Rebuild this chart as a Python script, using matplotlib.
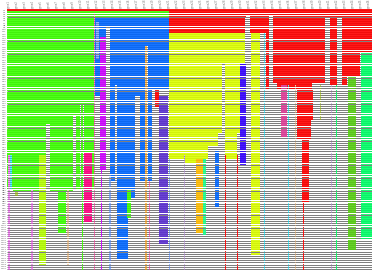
import numpy as np
import matplotlib
matplotlib.use("Agg")
import matplotlib.pyplot as plt

# presence matrix: 120 genomes (rows) x 365 gene families (columns)
n_rows = 120
n_cols = 365

# colour of each gene cluster group
palette = {
    'green': '#3cff00', 'lime': '#b4ff00', 'yellow': '#dcff00',
    'blue': '#0066ff', 'red': '#ff0000', 'purple': '#cc00ff',
    'indigo': '#3300ff', 'violet': '#5a2fd0', 'hotpink': '#ff0080',
    'pink': '#ff3399', 'rose': '#dd3c96', 'gold': '#ffbb00',
    'mint': '#19ff8c', 'leaf': '#55cc11', 'spring': '#00ff66',
    'cyan': '#00e5ff', 'tan': '#e8b070', 'skyblue': '#4d88ff',
    'olive': '#99bb00', 'lilac': '#b58ad8', 'magenta': '#ee55ee',
    'orange': '#ff9900',
}
alpha = {k: 0.9 for k in palette}
for k in ['magenta', 'cyan', 'tan', 'skyblue', 'lilac', 'pink', 'orange', 'olive']:
    alpha[k] = 0.6

# (group, first column, last column, first genome, last genome)
groups = [
    ('red', 0, 365, 0, 1),
    ('green', 0, 162, 1, 4),
    ('red', 162, 365, 1, 4),
    ('green', 0, 87, 4, 83),
    ('green', 6, 67, 83, 84),
    ('empty', 39, 43, 53, 84),
    ('empty', 66, 69, 49, 84),
    ('empty', 73, 74, 44, 84),
    ('empty', 76, 77, 44, 84),
    ('magenta', 1, 3, 67, 120),
    ('cyan', 3, 5, 67, 83),
    ('magenta', 24, 26, 83, 120),
    ('lime', 32, 39, 67, 118),
    ('green', 51, 59, 84, 103),
    ('olive', 8, 11, 84, 86),
    ('tan', 60, 62, 83, 118),
    ('green', 75, 76, 67, 120),
    ('hotpink', 77, 85, 66, 98),
    ('blue', 88, 162, 4, 40),
    ('pink', 87, 88, 2, 120),
    ('skyblue', 89, 92, 6, 23),
    ('purple', 93, 99, 13, 74),
    ('purple', 94, 95, 74, 120),
    ('empty', 99, 103, 8, 40),
    ('empty', 138, 141, 17, 40),
    ('orange', 138, 140, 17, 120),
    ('blue', 103, 128, 40, 79),
    ('empty', 108, 110, 35, 79),
    ('blue', 133, 138, 40, 79),
    ('blue', 141, 145, 40, 79),
    ('empty', 145, 162, 37, 40),
    ('red', 148, 152, 37, 45),
    ('violet', 152, 161, 40, 108),
    ('blue', 110, 128, 79, 87),
    ('blue', 110, 121, 87, 115),
    ('skyblue', 102, 104, 76, 120),
    ('green', 120, 124, 83, 96),
    ('pink', 142, 143, 79, 120),
    ('skyblue', 162, 163, 67, 120),
    ('red', 162, 238, 4, 11),
    ('yellow', 162, 238, 11, 57),
    ('empty', 215, 218, 25, 57),
    ('indigo', 233, 239, 25, 72),
    ('yellow', 162, 211, 57, 63),
    ('yellow', 162, 201, 63, 69),
    ('yellow', 178, 191, 69, 71),
    ('yellow', 218, 230, 57, 69),
    ('gold', 189, 196, 69, 103),
    ('mint', 196, 199, 69, 104),
    ('blue', 208, 212, 65, 91),
    ('red', 218, 219, 67, 120),
    ('red', 230, 231, 67, 120),
    ('lilac', 177, 178, 67, 120),
    ('empty', 239, 243, 3, 120),
    ('red', 243, 262, 4, 11),
    ('yellow', 244, 253, 11, 113),
    ('cyan', 257, 258, 11, 120),
    ('red', 259, 262, 11, 37),
    ('empty', 262, 266, 3, 120),
    ('red', 266, 318, 4, 34),
    ('red', 270, 305, 34, 37),
    ('red', 290, 306, 37, 51),
    ('red', 290, 304, 51, 60),
    ('red', 295, 302, 60, 89),
    ('red', 296, 297, 89, 120),
    ('rose', 274, 280, 35, 59),
    ('cyan', 281, 282, 35, 120),
    ('tan', 288, 289, 35, 120),
    ('olive', 313, 314, 35, 51),
    ('lilac', 324, 325, 35, 120),
    ('spring', 329, 330, 35, 120),
    ('red', 323, 330, 4, 35),
    ('red', 335, 365, 4, 20),
    ('red', 335, 353, 20, 31),
    ('red', 335, 340, 31, 35),
    ('spring', 354, 365, 20, 106),
    ('leaf', 341, 349, 31, 111),
]

names = ['empty'] + list(palette)
M = np.zeros((n_rows, n_cols), dtype=int)
for g, c0, c1, r0, r1 in groups:
    M[r0:r1, c0:c1] = names.index(g)

fig = plt.figure(figsize=(3.74, 2.72), dpi=100)
ax = fig.add_axes([7 / 374, 2 / 272, 365 / 374, 261 / 272])

rows = np.arange(n_rows)
ax.hlines(rows, 0, n_cols, color='#7a7a7a', lw=0.7, zorder=0)

for r in rows:
    line = M[r]
    start = 0
    for c in range(1, n_cols + 1):
        if c == n_cols or line[c] != line[start]:
            k = line[start]
            if k:
                name = names[k]
                ax.broken_barh([(start, c - start)], (r - 0.4, 0.8),
                               facecolors=palette[name], alpha=alpha[name],
                               linewidth=0, zorder=2)
            start = c

ax.set_xlim(0, n_cols)
ax.set_ylim(n_rows - 0.5, -0.5)

ax.set_yticks(rows)
ax.set_yticklabels(['G%d' % (i + 1) for i in rows], fontsize=1.6, color='#555555')
col_ticks = np.arange(2, n_cols, 8)
ax.xaxis.tick_top()
ax.set_xticks(col_ticks)
ax.set_xticklabels(['gene%d' % (i + 1) for i in range(len(col_ticks))],
                   fontsize=1.8, rotation=90, color='#777777')
ax.tick_params(length=0, pad=0.5)
for s in ax.spines.values():
    s.set_visible(False)

fig.savefig('out.png', dpi=100)
